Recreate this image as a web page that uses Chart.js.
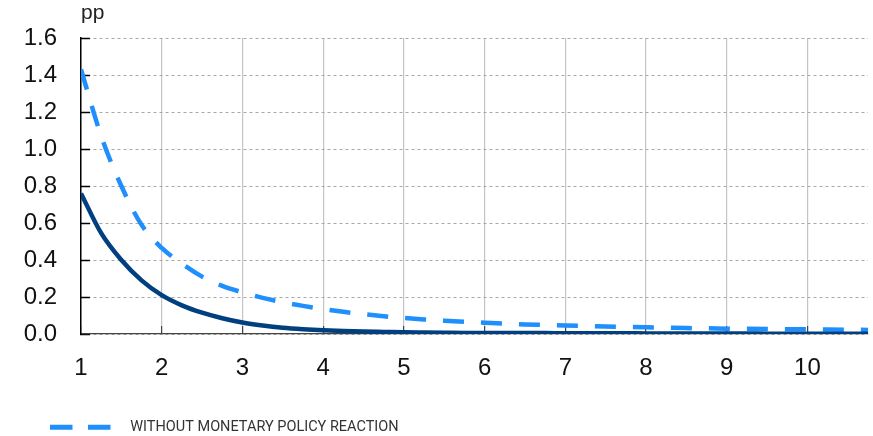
<!DOCTYPE html>
<html><head><meta charset="utf-8">
<script src="https://cdn.jsdelivr.net/npm/chart.js@4"></script>
<style>html,body{margin:0;padding:0;background:#fff}#wrap{width:873px;height:436px}</style>
</head><body><div id="wrap"><canvas id="c" width="873" height="436"></canvas></div>
<script>
const periods = [1, 1.25, 1.5, 1.75, 2, 2.25, 2.5, 2.75, 3, 3.25, 3.5, 3.75, 4, 4.25, 4.5, 4.75, 5, 5.25, 5.5, 5.75, 6, 6.25, 6.5, 6.75, 7, 7.25, 7.5, 7.75, 8, 8.25, 8.5, 8.75, 9, 9.25, 9.5, 9.75, 10, 10.25, 10.5, 10.75];
const withPolicy = [0.76, 0.545, 0.40, 0.29, 0.21, 0.155, 0.115, 0.085, 0.062, 0.046, 0.034, 0.026, 0.020, 0.016, 0.013, 0.011, 0.009, 0.008, 0.007, 0.006, 0.006, 0.005, 0.005, 0.005, 0.004, 0.004, 0.004, 0.004, 0.003, 0.003, 0.003, 0.003, 0.003, 0.003, 0.002, 0.002, 0.002, 0.002, 0.002, 0.002];
const withoutPolicy = [1.43, 1.07, 0.80, 0.59, 0.465, 0.38, 0.31, 0.26, 0.225, 0.195, 0.172, 0.152, 0.135, 0.12, 0.107, 0.096, 0.087, 0.079, 0.072, 0.066, 0.061, 0.056, 0.052, 0.049, 0.046, 0.043, 0.040, 0.038, 0.036, 0.034, 0.032, 0.031, 0.029, 0.028, 0.027, 0.026, 0.025, 0.024, 0.023, 0.022];
const xTickValues = [1, 2, 3, 4, 5, 6, 7, 8, 9, 10];
const yTickValues = [0, 0.2, 0.4, 0.6, 0.8, 1.0, 1.2, 1.4, 1.6];
const unitLabel = 'pp';
const seriesNames = ['WITH MONETARY POLICY REACTION', 'WITHOUT MONETARY POLICY REACTION'];

const toPoints = (xs, ys) => xs.map((x, i) => ({x: x, y: ys[i]}));
const tickFont = {family: "'Liberation Sans', Arial, sans-serif", size: 24};

new Chart(document.getElementById('c'), {
  type: 'line',
  data: {
    datasets: [
      {label: seriesNames[0], data: toPoints(periods, withPolicy), borderColor: '#003f80', backgroundColor: '#003f80',
       borderWidth: 4.5, pointRadius: 0, cubicInterpolationMode: 'monotone', fill: false},
      {label: seriesNames[1], data: toPoints(periods, withoutPolicy), borderColor: '#1e8ffc', backgroundColor: '#1e8ffc',
       borderWidth: 4.5, borderDash: [21, 17], pointRadius: 0, cubicInterpolationMode: 'monotone', fill: false}
    ]
  },
  options: {
    responsive: false,
    animation: false,
    layout: {padding: {left: 20, right: 5, top: 0, bottom: 0}},
    plugins: {
      tooltip: {enabled: false},
      title: {display: true, text: unitLabel, align: 'start', fullSize: false, color: '#222',
              font: {family: "'Liberation Sans', Arial, sans-serif", size: 21, weight: 'normal', lineHeight: 1},
              padding: {top: 3, bottom: 14}},
      legend: {
        position: 'bottom', align: 'start', maxHeight: 46,
        labels: {
          usePointStyle: true, pointStyle: 'line', pointStyleWidth: 73, padding: 30, color: '#333',
          font: {family: "Roboto, 'Liberation Sans', sans-serif", size: 14.5},
          generateLabels: (chart) => Chart.defaults.plugins.legend.labels.generateLabels(chart).map((item) => {
            const ds = chart.data.datasets[item.datasetIndex];
            return Object.assign(item, {lineDash: [22.5, 15.5], lineWidth: 5, strokeStyle: ds.borderColor, pointStyle: 'line'});
          }),
          filter: (item) => item.datasetIndex === 1
        }
      }
    },
    scales: {
      x: {
        type: 'linear', min: periods[0], max: periods[periods.length - 1],
        afterBuildTicks: (s) => { s.ticks = xTickValues.map(v => ({value: v})); },
        afterFit: (s) => { s.height = 56; },
        ticks: {color: '#111', font: tickFont, padding: 28, maxRotation: 0, autoSkip: false,
                callback: (v) => String(v)},
        grid: {color: '#c4c4c4', lineWidth: 1.2, tickColor: '#444', tickLength: -8, tickWidth: 1.2},
        border: {color: '#444', width: 1.2}
      },
      y: {
        min: 0, max: 1.6,
        afterBuildTicks: (s) => { s.ticks = yTickValues.map(v => ({value: v})); },
        afterFit: (s) => { s.width = 61; s.paddingTop = 15; s.paddingBottom = 15; },
        ticks: {color: '#111', font: tickFont, padding: 33, callback: (v) => Number(v).toFixed(1)},
        grid: {color: '#a8a8a8', lineWidth: 1, tickColor: '#000', tickLength: -9, tickWidth: 1.5},
        border: {color: '#000', width: 1.5, dash: [3, 3]}
      }
    }
  }
});
</script></body></html>
